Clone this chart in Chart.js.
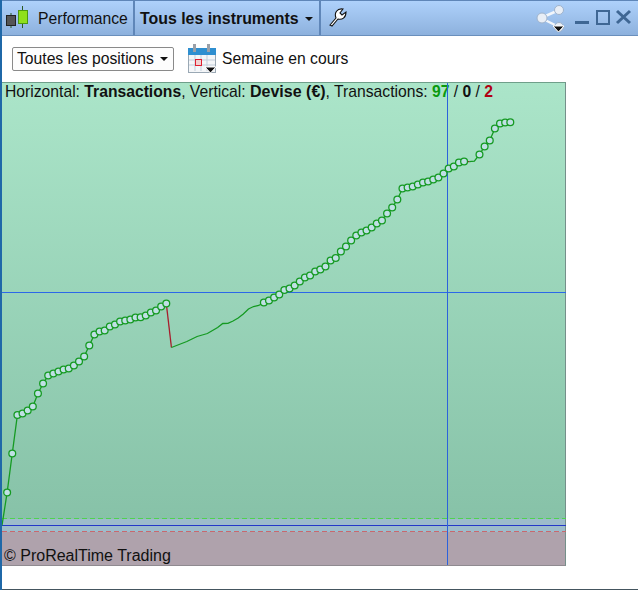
<!DOCTYPE html>
<html>
<head>
<meta charset="utf-8">
<script src="https://cdn.jsdelivr.net/npm/chart.js@4/dist/chart.umd.js"></script>
<style>
  html, body { margin: 0; padding: 0; background: #fff; }
  body { width: 638px; height: 590px; position: relative; overflow: hidden; font-family: "Liberation Sans", Arial, sans-serif; font-size: 15.7px; color: #111; }
  .abs { position: absolute; white-space: nowrap; }
  #frameLeft { left: 0; top: 0; width: 2px; height: 590px; background: #1f68a8; z-index: 5; }
  #frameBottom { left: 0; top: 589px; width: 638px; height: 1px; background: #44555f; }
  #toolbar { left: 0; top: 0; width: 638px; height: 34px; background: linear-gradient(#aed1fb, #8db1dd); border-top: 1px solid #5f86b8; border-bottom: 1px solid #6a8fbc; }
  .divider { top: 1px; width: 2px; height: 34px; background: #5f86b8; }
  .arrow { width: 0; height: 0; border-left: 4px solid transparent; border-right: 4px solid transparent; border-top: 4px solid #111; }
  #dropdown { left: 12px; top: 47px; width: 160px; height: 22px; border: 1px solid #8a8a8a; border-radius: 2px; background: #fdfdfd; }
  #plotBg { left: 2px; top: 82px; width: 563px; height: 482px; border-top: 1px solid #6f9f8a; border-right: 1px solid #75908a; border-bottom: 1px solid #8f8a90;
    background: linear-gradient(#abe5c9 0, #87c2a8 436px, #9dbccb 436px, #9dbccb 449px, #afa2ac 449px, #afa2ac 482px); }
  #chart { position: absolute; left: 2px; top: 83px; z-index: 3; }
  b.up { color: #0a9a10; } b.down { color: #b00012; }
</style>
</head>
<body>
<div class="abs" id="toolbar"></div>
<div class="abs divider" style="left:133px"></div>
<div class="abs divider" style="left:319px"></div>
<svg class="abs" style="left:0;top:0" width="32" height="34" viewBox="0 0 32 34">
  <path d="M11 13v15M22.5 6v22" stroke="#2c5a20" stroke-width="1"/>
  <rect x="6.5" y="15.5" width="9" height="10" fill="#555" stroke="#222"/>
  <rect x="18.5" y="10.5" width="9" height="13" fill="#8fe01c" stroke="#4d9a10"/>
</svg>
<span class="abs" style="left:38px;top:10px">Performance</span>
<b class="abs" style="left:140px;top:10px;font-size:15.9px">Tous les instruments</b>
<div class="abs arrow" style="left:305px;top:17px"></div>
<svg class="abs" style="left:327px;top:7px" width="20" height="20" viewBox="0 0 20 20">
  <path d="M3 18 L9 11 C7 6 10 1 16 2 L13 6 L15 8 L19 5 C19 11 15 13 11 12 L5 19 Z" fill="#fff" stroke="#111" stroke-width="1.1"/>
</svg>
<svg class="abs" style="left:535px;top:3px" width="36" height="30" viewBox="0 0 36 30">
  <path d="M6 15 L24 7 M6 15 L24 24" stroke="#f2f6fb" stroke-width="2.5"/>
  <circle cx="7" cy="15" r="5" fill="#e8eef6" stroke="#9fb3cc"/><circle cx="24" cy="7" r="4.5" fill="#e8eef6" stroke="#9fb3cc"/><circle cx="24" cy="24" r="4.5" fill="#e8eef6" stroke="#9fb3cc"/>
  <path d="M18 23 h11 l-5.5 6 z" fill="#111" stroke="#fff"/>
</svg>
<div class="abs" style="left:575px;top:21px;width:14px;height:3px;background:#3f6794"></div>
<div class="abs" style="left:596px;top:10px;width:10px;height:11px;border:2px solid #3f6794"></div>
<svg class="abs" style="left:615px;top:9px" width="17" height="16" viewBox="0 0 17 16"><path d="M2 2 L15 14 M15 2 L2 14" stroke="#3f6794" stroke-width="3"/></svg>

<div class="abs" id="dropdown"></div>
<span class="abs" style="left:17px;top:50px">Toutes les positions</span>
<div class="abs arrow" style="left:160px;top:57px"></div>
<svg class="abs" style="left:186px;top:43px" width="32" height="31" viewBox="0 0 32 31">
  <rect x="2.5" y="5.5" width="27" height="24" fill="#f4f6f8" stroke="#9aa8b4"/>
  <rect x="2" y="5" width="28" height="7" fill="#2f8fd0"/>
  <rect x="7" y="1" width="3" height="8" fill="#9aa0a8"/><rect x="21" y="1" width="3" height="8" fill="#9aa0a8"/>
  <path d="M3 17h26M3 22h26M9 12v16M15 12v16M21 12v16" stroke="#c3cedb"/>
  <rect x="9.5" y="16.5" width="6" height="6" fill="#f2d0d0" stroke="#e02030"/>
  <path d="M19 24h11l-5.5 6z" fill="#111" stroke="#fff"/>
</svg>
<span class="abs" style="left:222px;top:50px">Semaine en cours</span>

<div class="abs" id="plotBg"></div>
<span class="abs" style="left:5px;top:83px">Horizontal: <b>Transactions</b>, Vertical: <b style="font-size:16px">Devise (€)</b>, Transactions: <b class="up">97</b> / <b>0</b> / <b class="down">2</b></span>
<span class="abs" style="left:4px;top:547px;font-size:16px">© ProRealTime Trading</span>
<canvas id="chart" width="564" height="482"></canvas>
<div class="abs" id="frameLeft"></div>
<div class="abs" id="frameBottom"></div>

<script>
// cumulative result per transaction
const equity = [
  0, 33, 72, 110.5, 112, 115, 119, 132, 142, 150,
  152, 154, 156, 157, 160, 164, 169, 180, 191, 194,
  195, 199, 201, 204, 205, 206, 208, 208.3, 210, 213,
  215, 219, 222, 178, 180, 182, 184, 186.5, 189, 190.5,
  192, 195, 198, 202, 202.2, 204.5, 207.5, 211.5, 216.5, 219,
  220, 223, 225, 228, 231, 235.5, 237, 240, 244, 248,
  250, 254, 256, 259, 265, 267.5, 274, 279, 285, 290,
  293, 295, 298, 302, 305, 312, 318, 326, 337, 338,
  339, 341, 343, 344, 346, 348, 352, 357, 359, 363,
  364, 363.8, 364.3, 371, 379, 385, 397, 402, 403, 403.2
];
// transactions drawn without a circle
const noMarker = [0, 33, 34, 35, 36, 37, 38, 39, 40, 41, 42, 43, 44, 45, 46, 47, 48, 49, 50, 91, 92];

const average = 233;
const crossX = 86.77;
const upperBand = 7;
const lowerBand = -6;
const xRange = [0, 109.85];
const yRange = [-39.5, 442.5];

const points = equity.map((v, i) => ({x: i, y: v}));
const hLine = (y) => xRange.map(x => ({x: x, y: y}));

const config = {
  type: 'line',
  data: {
    datasets: [
      {data: hLine(upperBand), borderColor: '#4fd24f', borderDash: [5, 3], borderWidth: 1, pointRadius: 0, order: 5},
      {data: hLine(lowerBand), borderColor: '#c8686e', borderDash: [5, 3], borderWidth: 1, pointRadius: 0, order: 5},
      {data: hLine(0), borderColor: '#2438c8', borderWidth: 1, pointRadius: 0, order: 4},
      {data: hLine(average), borderColor: '#2c68e8', borderWidth: 1, pointRadius: 0, order: 3},
      {data: yRange.map(y => ({x: crossX, y: y})), borderColor: '#2c62dc', borderWidth: 1, pointRadius: 0, order: 2},
      {
        data: points,
        borderColor: '#159a22',
        borderWidth: 1.3,
        tension: 0,
        pointRadius: ctx => noMarker.includes(ctx.dataIndex) ? 0 : 3.4,
        pointBorderWidth: 1.3,
        pointBorderColor: '#159a22',
        pointBackgroundColor: '#bfe0e4',
        segment: {
          borderColor: ctx => ctx.p1.parsed.y < ctx.p0.parsed.y ? '#a81c2c' : '#159a22'
        },
        order: 1
      }
    ]
  },
  options: {
    responsive: false,
    animation: false,
    devicePixelRatio: 1,
    layout: {padding: 0, autoPadding: false},
    plugins: {legend: {display: false}, tooltip: {enabled: false}, title: {display: false}},
    scales: {
      x: {type: 'linear', display: false, min: xRange[0], max: xRange[1]},
      y: {type: 'linear', display: false, min: yRange[0], max: yRange[1]}
    }
  }
};

var myChart = new Chart(document.getElementById('chart'), config);
</script>
</body>
</html>
